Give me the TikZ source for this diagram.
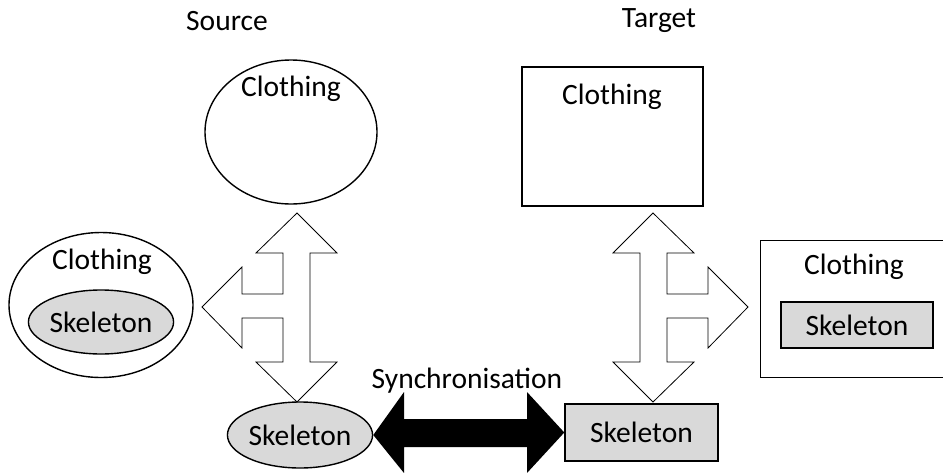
\documentclass[tikz,border=0pt]{standalone}
\usepackage{fontspec}
\setmainfont{Carlito}
\usetikzlibrary{shapes.geometric}
\definecolor{skelgray}{RGB}{217,217,217}
\begin{document}
\begin{tikzpicture}[x=1pt,y=-1pt,
  every node/.style={font=\fontsize{29.5}{35}\selectfont, inner sep=0pt},
  shapeline/.style={draw=black, line width=1.4pt},
  ovalbox/.style={shapeline, ellipse},
  squarebox/.style={shapeline, rectangle},
  skelfill/.style={fill=skelgray},
  hollowarrow/.style={draw=black, line width=0.8pt, fill=white, line join=miter},
  solidarrow/.style={fill=black}]
  \clip (0,0) rectangle (943,472);

  % headings
  \node (srcHead) at (227,21) {Source};
  \node (tgtHead) at (659,21) {Target};

  % source side
  \node[ovalbox, minimum width=172pt, minimum height=144pt] (srcCloth) at (291,132) {};
  \node (srcClothTxt) at (291,89) {Clothing};

  \node[ovalbox, minimum width=184pt, minimum height=145pt] (mixCloth) at (101,305) {};
  \node (mixClothTxt) at (102,262) {Clothing};
  \node[ovalbox, skelfill, minimum width=132pt, minimum height=64pt] (mixSkel) at (101,322) {Skeleton};

  \node[ovalbox, skelfill, minimum width=134pt, minimum height=66pt] (srcSkel) at (300,435) {Skeleton};

  % target side
  \node[squarebox, minimum width=181pt, minimum height=139pt] (tgtCloth) at (612.5,136.5) {};
  \node (tgtClothTxt) at (612,97) {Clothing};

  \node[squarebox, anchor=north west, minimum width=200pt, minimum height=137pt] (boxCloth) at (760,240) {};
  \node (boxClothTxt) at (854,267) {Clothing};
  \node[squarebox, skelfill, minimum width=152pt, minimum height=46pt] (boxSkel) at (857,325) {Skeleton};

  \node[squarebox, skelfill, minimum width=153pt, minimum height=57pt] (tgtSkel) at (641.5,432.5) {Skeleton};

  % three-way arrow on the source side
  \draw[hollowarrow] (297,213) -- (337,253) -- (310,253) -- (310,362) -- (337,362)
    -- (297,402) -- (256,362) -- (283,362) -- (283,318) -- (242,318) -- (242,348)
    -- (202,307) -- (242,267) -- (242,294) -- (283,294) -- (283,253) -- (256,253) -- cycle;

  % three-way arrow on the target side
  \draw[hollowarrow] (653,213) -- (694,253) -- (667,253) -- (667,294) -- (708,294)
    -- (708,267) -- (748,307) -- (708,348) -- (708,318) -- (667,318) -- (667,362)
    -- (694,362) -- (653,402) -- (613,362) -- (640,362) -- (640,253) -- (613,253) -- cycle;

  % synchronisation arrow between the two skeletons
  \fill[solidarrow] (srcSkel.east) -- (404,392) -- (404,419) -- (527,419) -- (527,392)
    -- (tgtSkel.west) -- (527,473) -- (527,447) -- (404,447) -- (404,473) -- cycle;
  \node (syncTxt) at (467,381) {Synchronisation};
\end{tikzpicture}
\end{document}
